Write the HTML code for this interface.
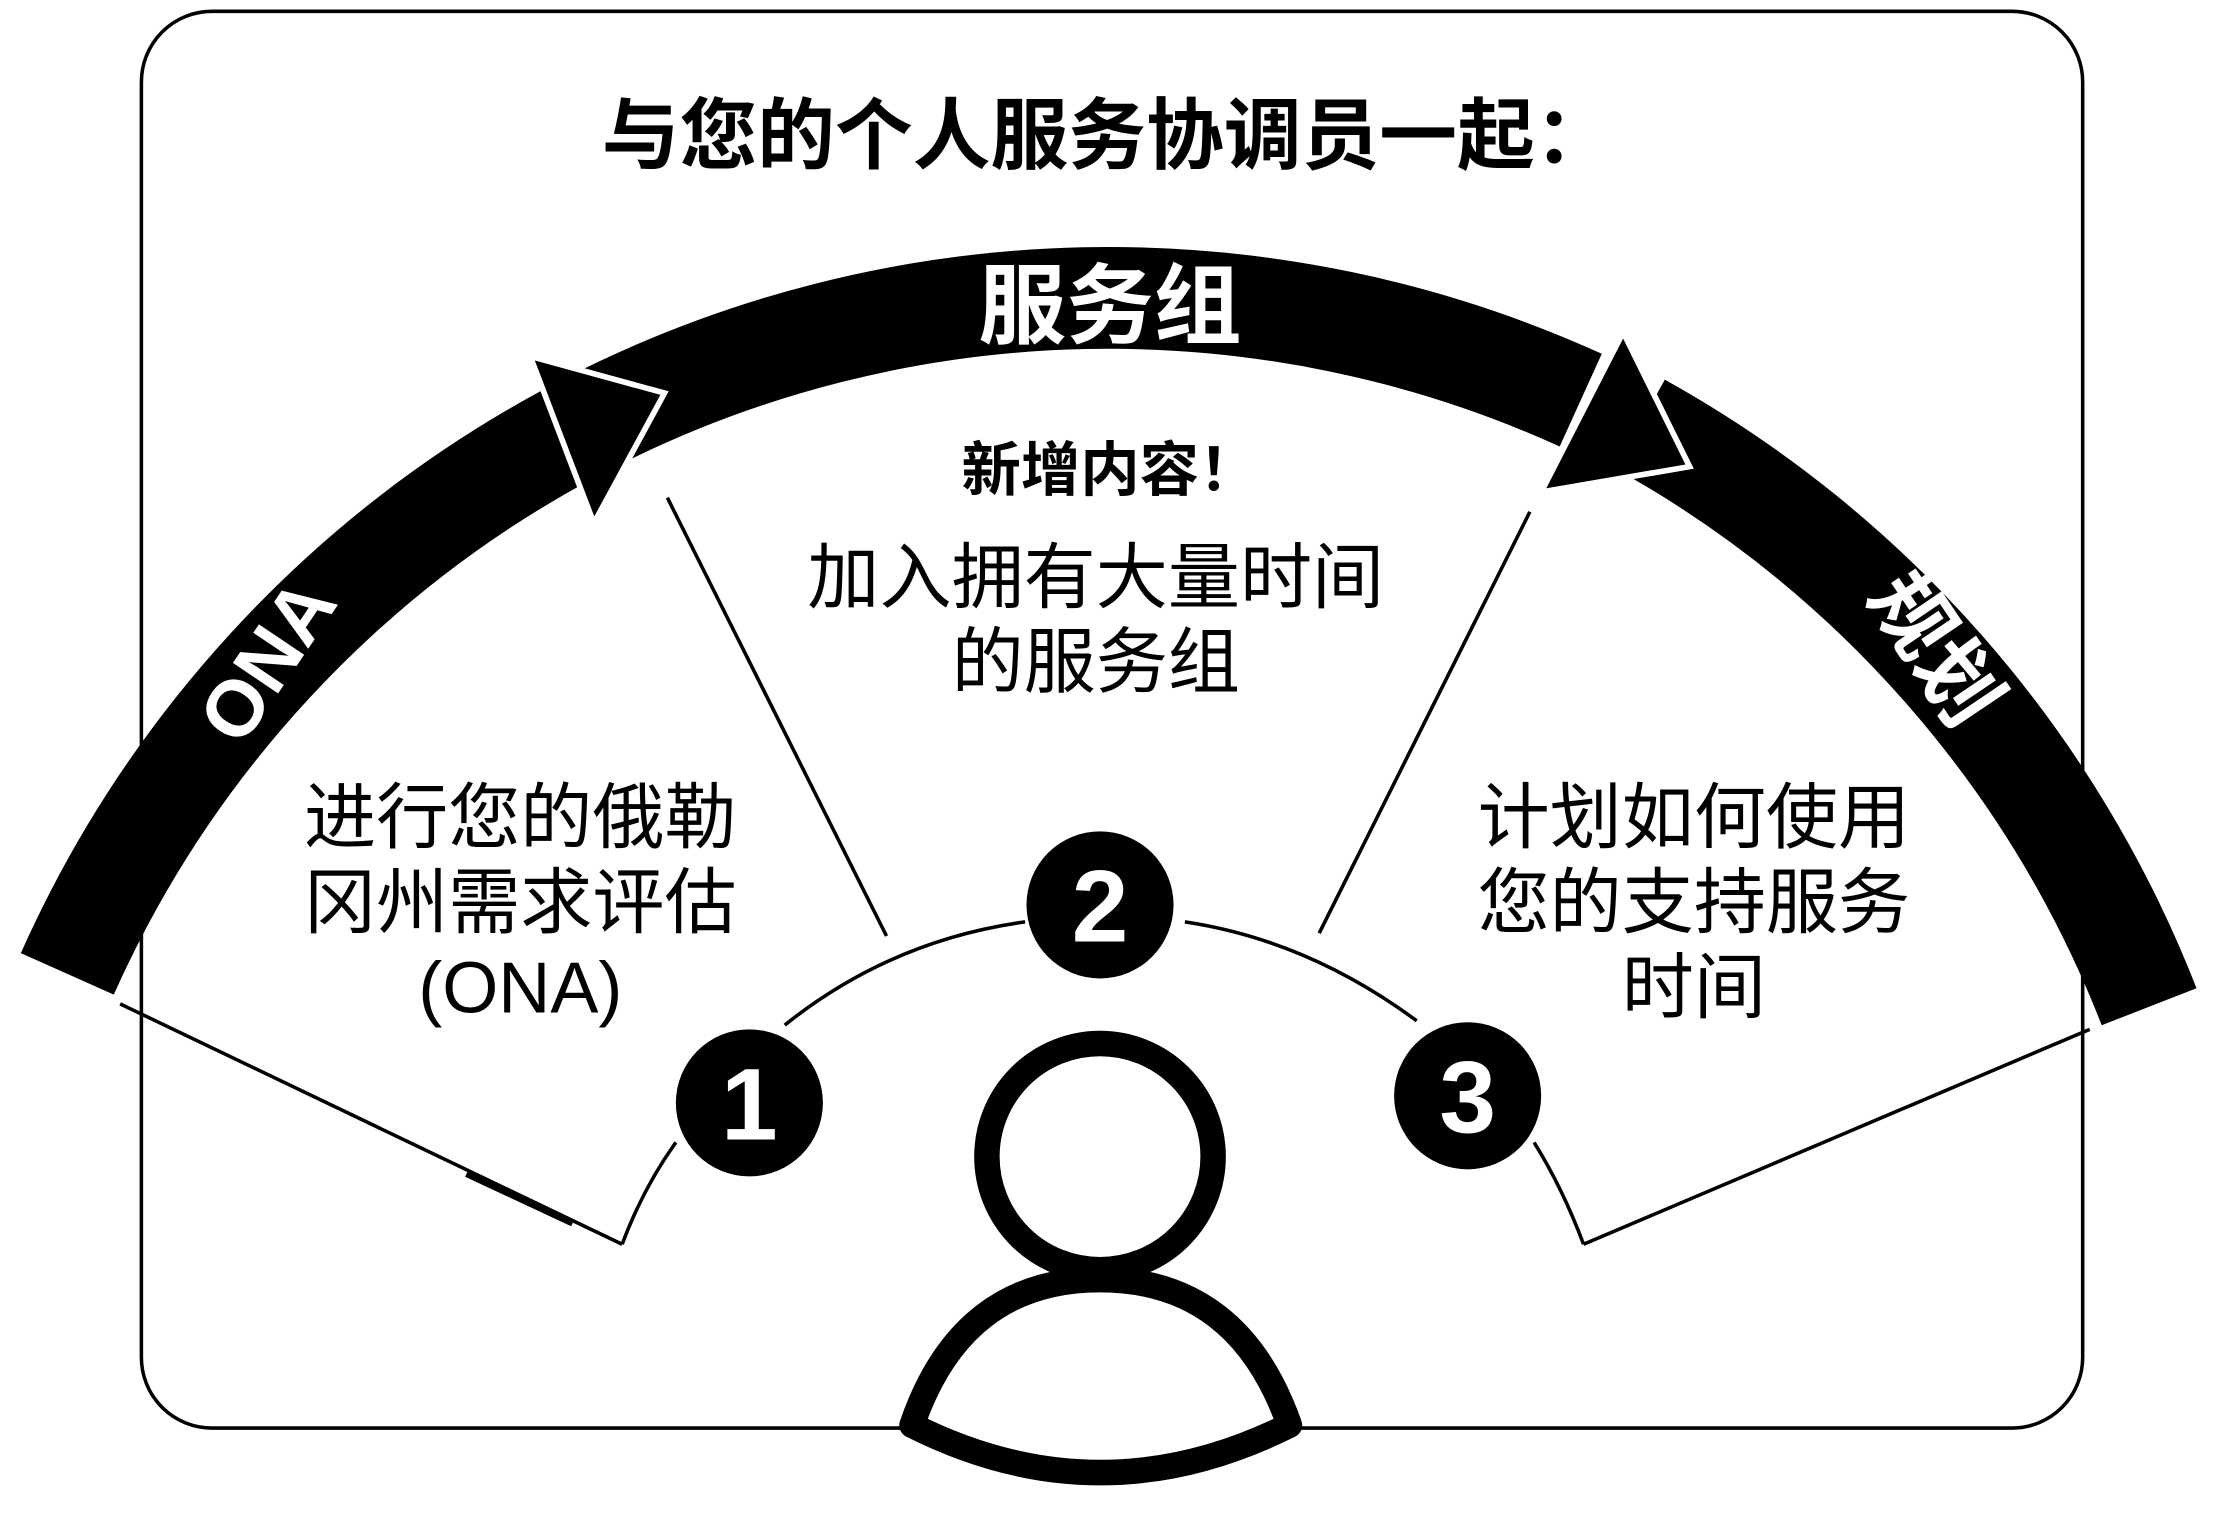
<!DOCTYPE html>
<html><head><meta charset="utf-8"><style>
html,body{margin:0;padding:0;background:#fff;}
svg{display:block;}
text{font-family:"Liberation Sans","Noto Sans CJK SC",sans-serif;}
</style></head><body>
<svg width="2217" height="1518" viewBox="0 0 1568 1073.6" xmlns="http://www.w3.org/2000/svg">
<rect x="100" y="8" width="1373" height="1002" rx="50" fill="#fff" stroke="#000" stroke-width="2.5"/>
<text x="783" y="115" font-size="55" font-weight="bold" text-anchor="middle">与您的个人服务协调员一起：</text>

<g fill="none" stroke="#000" stroke-width="2.5">
<line x1="85" y1="710" x2="440" y2="880"/>
<path d="M440 880 Q455 840 478 808"/>
<line x1="1478" y1="728" x2="1120" y2="880"/>
<path d="M1120 880 Q1105 840 1085 808"/>
<line x1="472" y1="352" x2="627" y2="662"/>
<line x1="1082" y1="362" x2="933" y2="660"/>
<path d="M555 725 Q630 665 725 652"/>
<path d="M838 652 Q925 665 1002 722"/>
</g>
<line x1="330" y1="830" x2="405" y2="865" stroke="#000" stroke-width="5"/>

<g fill="none" stroke="#000" stroke-width="72">
<path d="M47.6 688.8 A807 807 0 0 1 400 308"/>
<path d="M419 298 A807 807 0 0 1 1118 283"/>
<path d="M1160 300 A807 807 0 0 1 1520 712"/>
</g>
<polygon points="375,252 470,278 420,370" fill="#000" stroke="#fff" stroke-width="4"/>
<polygon points="1148,235 1195,330 1090,348" fill="#000" stroke="#fff" stroke-width="4"/>

<text x="785" y="238" font-size="62" fill="#fff" text-anchor="middle" font-weight="bold">服务组</text>
<text transform="translate(205,478) rotate(-56)" font-size="56" fill="#fff" text-anchor="middle" font-weight="bold">ONA</text>
<text transform="translate(1352,470) rotate(56)" font-size="58" fill="#fff" text-anchor="middle" font-weight="bold">规划</text>

<text x="785" y="347" font-size="42" font-weight="bold" text-anchor="middle">新增内容！</text>
<g font-size="51" text-anchor="middle">
<text x="775" y="426">加入拥有大量时间</text>
<text x="775" y="486">的服务组</text>
<text x="368" y="596">进行您的俄勒</text>
<text x="368" y="656">冈州需求评估</text>
<text x="368" y="716">(ONA)</text>
<text x="1198" y="596">计划如何使用</text>
<text x="1198" y="656">您的支持服务</text>
<text x="1198" y="716">时间</text>
</g>

<g fill="#000">
<circle cx="530" cy="780" r="52"/>
<circle cx="778" cy="640" r="52"/>
<circle cx="1038" cy="775" r="52"/>
</g>
<g fill="#fff" font-size="72" font-weight="bold" text-anchor="middle">
<text x="530" y="806">1</text>
<text x="778" y="666">2</text>
<text x="1038" y="801">3</text>
</g>

<circle cx="778" cy="818" r="80" fill="#fff" stroke="#000" stroke-width="18"/>
<path d="M645 1008 Q680 905 778 905 Q876 905 912 1008 Q778 1075 645 1008 Z" fill="#fff" stroke="#000" stroke-width="18" stroke-linejoin="round"/>
</svg>
</body></html>
